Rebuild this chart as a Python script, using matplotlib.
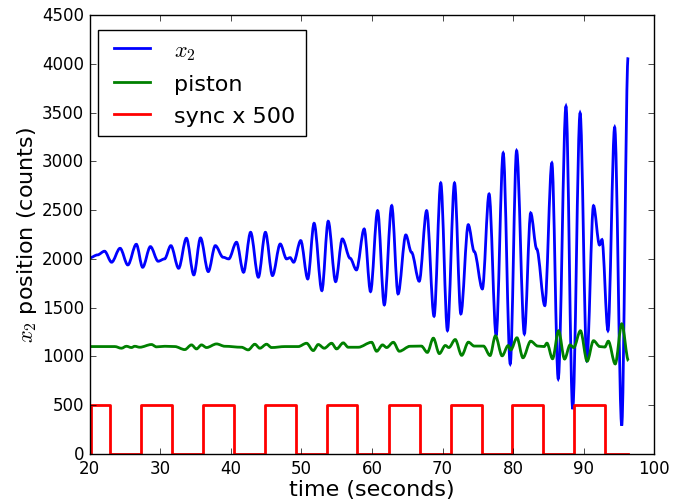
import numpy as np
import matplotlib
matplotlib.use("Agg")
import matplotlib.pyplot as plt
from matplotlib.path import Path
from matplotlib.patches import PathPatch

plt.style.use("classic")

# x2 の極値
x2_t = [20.0, 21.1, 22.1, 23.1, 24.3, 25.4, 26.6, 27.5, 28.6, 29.7, 30.6, 31.5,
        32.6, 33.7, 34.75, 35.7, 36.8, 37.8, 38.9, 39.7, 40.8, 41.8, 42.8, 43.9,
        44.9, 45.9, 47.0, 47.9, 48.4, 48.9, 49.9, 50.9, 51.8, 52.9, 53.8, 54.85,
        55.8, 56.9, 57.8, 58.9, 59.8, 60.8, 61.75, 62.8, 63.7, 64.8, 65.6, 66.7,
        67.75, 68.8, 69.75, 70.7, 71.7, 72.6, 73.65, 74.5, 75.65, 76.6, 77.6,
        78.6, 79.6, 80.5, 81.6, 82.5, 83.35, 84.5, 85.5, 86.4, 87.5, 88.45, 89.5,
        90.45, 91.4, 92.25, 92.6, 93.45, 94.4, 95.4, 96.3]
x2_v = [2010, 2040, 2078, 1965, 2108, 1937, 2149, 1913, 2125, 1975, 1999, 2135,
        1903, 2211, 1835, 2214, 1869, 2135, 2016, 1999, 2170, 1862, 2272, 1811,
        2272, 1828, 2152, 1999, 2012, 1965, 2187, 1794, 2364, 1674, 2385, 1766,
        2204, 2006, 1886, 2306, 1664, 2494, 1527, 2545, 1640, 2245, 2067, 1770,
        2494, 1411, 2778, 1264, 2778, 1435, 2350, 2074, 1691, 2665, 1213,
        3085, 922, 3109, 1230, 2470, 2101, 1520, 2983, 769, 3564, 460, 3495,
        957, 2545, 2142, 2197, 1264, 3349, 290, 4066]

# piston
piston_t = [20.0, 23.55, 24.49, 25.2, 25.91, 26.38, 27.09, 28.75, 29.46, 30.64,
            32.06, 33.47, 34.42, 35.13, 35.84, 36.55, 37.97, 39.15, 41.51, 42.46,
            43.4, 44.11, 45.06, 45.77, 47.66, 49.55, 50.73, 51.68, 52.39, 53.24,
            54.28, 54.99, 55.93, 56.64, 58.06, 59.95, 60.66, 61.5, 62.08, 63.03,
            63.88, 65.4, 67.0, 67.85, 68.7, 69.55, 70.4, 70.9, 71.8, 72.72, 73.67,
            74.5, 75.8, 76.74, 77.5, 78.45, 79.3, 79.67, 80.55, 81.4, 82.5, 83.5,
            84.4, 84.8, 85.6, 86.45, 87.3, 88.08, 88.6, 89.55, 90.5, 91.4, 92.3,
            93.0, 93.5, 94.48, 95.41, 96.36]
piston_v = [1100, 1100, 1083, 1103, 1090, 1103, 1093, 1121, 1097, 1103,
            1100, 1069, 1117, 1076, 1117, 1090, 1127, 1103, 1093, 1066,
            1124, 1083, 1124, 1090, 1100, 1100, 1134, 1059, 1121, 1083,
            1134, 1076, 1138, 1093, 1093, 1144, 1052, 1117, 1090, 1144,
            1052, 1103, 1105, 1040, 1186, 1028, 1111, 1090, 1172, 1010, 1145,
            1105, 1105, 1008, 1210, 1005, 1110, 1065, 1190, 985, 1155, 1105,
            1100, 1135, 975, 1262, 972, 1117, 1090, 1262, 950, 1160, 1100,
            1095, 1155, 922, 1333, 955]

# sync の立ち上がり・立ち下がり時刻
sync_rise = [20.25, 27.2, 36.1, 44.8, 53.6, 62.4, 71.15, 79.9, 88.65]
sync_fall = [22.85, 31.65, 40.5, 49.2, 57.95, 66.8, 75.55, 84.3, 93.1]
sync_start = 20.0
sync_end = 96.3
sync_scale = 500


def smooth_path(t, v):
    """極値を水平接線のベジェ曲線でつなぐ"""
    verts = [(t[0], v[0])]
    codes = [Path.MOVETO]
    for i in range(1, len(t)):
        dt = t[i] - t[i - 1]
        verts += [(t[i - 1] + dt / 3, v[i - 1]), (t[i] - dt / 3, v[i]), (t[i], v[i])]
        codes += [Path.CURVE4] * 3
    return Path(verts, codes)


# 矩形波を組み立てる
sync_t = [sync_start]
sync_v = [0]
for r, f in zip(sync_rise, sync_fall):
    sync_t += [r, r, f, f]
    sync_v += [0, 1, 1, 0]
sync_t.append(sync_end)
sync_v.append(0)
sync_v = np.array(sync_v) * sync_scale

fig = plt.figure(figsize=(6.85, 5.02), dpi=100)
ax = fig.add_axes([0.131, 0.094, 0.824, 0.874])

ax.add_patch(PathPatch(smooth_path(x2_t, x2_v), fill=False, edgecolor='b', lw=2, zorder=2))
ax.add_patch(PathPatch(smooth_path(piston_t, piston_v), fill=False, edgecolor='g', lw=2, zorder=2))
ax.plot(sync_t, sync_v, color='r', lw=2, zorder=2)

# 凡例用
ax.plot([], [], color='b', lw=2, label=r'$x_2$')
ax.plot([], [], color='g', lw=2, label='piston')
ax.plot([], [], color='r', lw=2, label='sync x 500')

ax.set_xlim(20, 100)
ax.set_ylim(0, 4500)
ax.set_xticks(np.arange(20, 101, 10))
ax.set_yticks(np.arange(0, 4501, 500))
ax.tick_params(labelsize=12)
ax.set_xlabel('time (seconds)', fontsize=16, labelpad=1)
ax.set_ylabel(r'$x_2$ position (counts)', fontsize=16, labelpad=2)

ax.legend(loc='upper left', bbox_to_anchor=(0.0142, 0.966), borderaxespad=0,
          fontsize=16, handlelength=2.2, handletextpad=0.8, borderpad=0.45,
          labelspacing=0.55)

fig.savefig('out.png', dpi=100)
